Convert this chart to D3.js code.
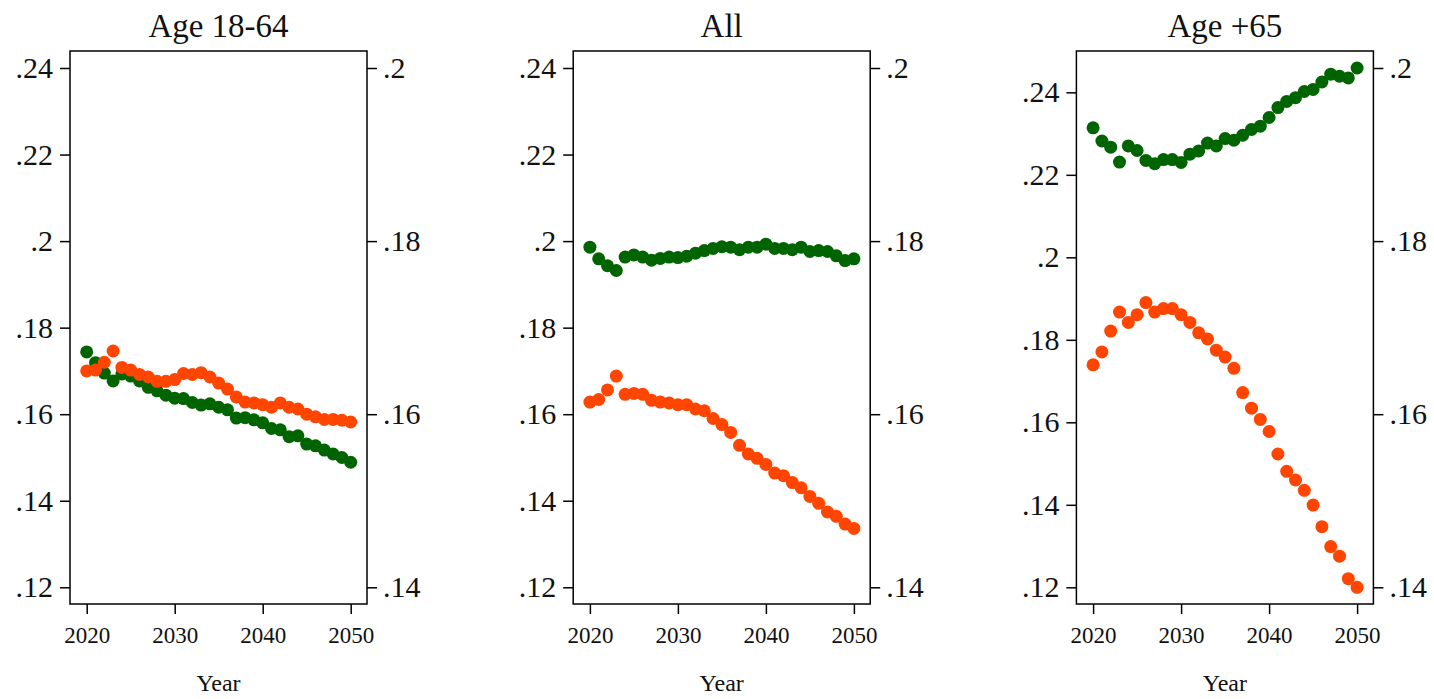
<!DOCTYPE html>
<html>
<head>
<meta charset="utf-8">
<script src="https://cdn.jsdelivr.net/npm/d3@7"></script>
<style>
  html, body { margin: 0; padding: 0; background: #fff; }
  svg { display: block; }
  text { font-family: "Liberation Serif", "Times New Roman", serif; fill: #111; }
</style>
</head>
<body>
<svg id="chart" width="1434" height="699"></svg>
<script>
// ---- data ----
const years = d3.range(2020, 2051);
const panelTitles = ["Age 18-64", "All", "Age +65"];
const xTicks = [2020, 2030, 2040, 2050];
const leftTicks = [0.12, 0.14, 0.16, 0.18, 0.20, 0.22, 0.24];
const rightTicks = [0.14, 0.16, 0.18, 0.20];

// green series (left axis)
const green1864 = [.1744,.1719,.1695,.1677,.1693,.1688,.1677,.1662,.1654,.1644,.1637,.1636,.1627,.1621,.1624,.1616,.1610,.1591,.1592,.1587,.1580,.1567,.1564,.1548,.1550,.1531,.1527,.1517,.1508,.1500,.1489];
const greenAll  = [.1986,.1959,.1943,.1932,.1963,.1968,.1963,.1956,.1960,.1963,.1962,.1965,.1972,.1978,.1983,.1987,.1986,.1980,.1986,.1986,.1993,.1983,.1983,.1980,.1986,.1976,.1978,.1976,.1966,.1955,.1959];
const green65   = [.2314,.2282,.2267,.2231,.2270,.2259,.2235,.2227,.2237,.2237,.2230,.2250,.2258,.2277,.2270,.2288,.2284,.2296,.2310,.2318,.2339,.2363,.2378,.2387,.2402,.2407,.2425,.2444,.2439,.2435,.2459];

// orange series (right axis)
const orange1864 = [.1650,.1651,.1660,.1673,.1654,.1651,.1646,.1643,.1638,.1638,.1640,.1647,.1646,.1648,.1643,.1636,.1629,.1620,.1614,.1613,.1611,.1608,.1613,.1608,.1606,.1600,.1597,.1594,.1594,.1593,.1591];
const orangeAll  = [.1614,.1617,.1628,.1644,.1623,.1624,.1623,.1616,.1614,.1613,.1611,.1611,.1606,.1604,.1595,.1588,.1579,.1564,.1554,.1549,.1542,.1532,.1529,.1521,.1515,.1505,.1497,.1487,.1482,.1473,.1468];
const orange65   = [.1657,.1672,.1696,.1718,.1706,.1715,.1729,.1718,.1722,.1722,.1715,.1706,.1694,.1687,.1674,.1666,.1653,.1625,.1607,.1594,.1580,.1554,.1534,.1524,.1512,.1495,.1470,.1447,.1436,.1410,.1400];

const greenSeries = [green1864, greenAll, green65];
const orangeSeries = [orange1864, orangeAll, orange65];

// ---- layout ----
const svg = d3.select("#chart");
const FONT = '"Liberation Serif", "Times New Roman", serif';
const frameW = 297, frameTop = 51, frameBottom = 604;
const panelLeft0 = 70, panelStep = 503.2;
const yTop = 68, yBottom = 587.3;
const GREEN = "#006400", ORANGE = "#ff4500";
const fmt = d => d3.format(".2~f")(d).replace(/^0/, "");

function styleAxis(ax, size) {
  ax.attr("font-family", FONT).attr("font-size", size);
  ax.select(".domain").remove();
  ax.selectAll("line").attr("stroke", "#000").attr("stroke-width", 1.5);
  ax.selectAll("text").style("font-family", FONT).style("font-size", size + "px").attr("fill", "#111");
}

panelTitles.forEach((title, i) => {
  const fx = panelLeft0 + i * panelStep;
  const g = svg.append("g");

  const x = d3.scaleLinear().domain([2020, 2050]).range([fx + 16.7, fx + 280.7]);
  const leftMax = Math.max(0.24, d3.max(greenSeries[i]));
  const yL = d3.scaleLinear().domain([0.12, leftMax]).range([yBottom, yTop]);
  const yR = d3.scaleLinear().domain([0.14, 0.20]).range([yBottom, yTop]);

  // frame
  g.append("rect")
    .attr("x", fx).attr("y", frameTop)
    .attr("width", frameW).attr("height", frameBottom - frameTop)
    .attr("fill", "none").attr("stroke", "#000").attr("stroke-width", 1.5);

  // left axis
  const axL = g.append("g").attr("transform", `translate(${fx},0)`)
    .call(d3.axisLeft(yL).tickValues(leftTicks).tickFormat(fmt).tickSize(10).tickPadding(7));
  styleAxis(axL, 30);

  // right axis
  const axR = g.append("g").attr("transform", `translate(${fx + frameW},0)`)
    .call(d3.axisRight(yR).tickValues(rightTicks).tickFormat(fmt).tickSize(10).tickPadding(6));
  styleAxis(axR, 30);

  // bottom axis
  const axB = g.append("g").attr("transform", `translate(0,${frameBottom})`)
    .call(d3.axisBottom(x).tickValues(xTicks).tickFormat(d3.format("d")).tickSize(10).tickPadding(13));
  styleAxis(axB, 23);

  // title
  g.append("text")
    .attr("x", fx + frameW / 2).attr("y", 37)
    .attr("text-anchor", "middle").style("font-size", "33px")
    .text(title);

  // x axis label
  g.append("text")
    .attr("x", fx + frameW / 2).attr("y", 691)
    .attr("text-anchor", "middle").style("font-size", "24px")
    .text("Year");

  // points
  g.append("g").selectAll("circle")
    .data(years.map((yr, k) => ({ yr, v: greenSeries[i][k] })))
    .join("circle")
    .attr("cx", d => x(d.yr)).attr("cy", d => yL(d.v)).attr("r", 6.5)
    .attr("fill", GREEN);

  g.append("g").selectAll("circle")
    .data(years.map((yr, k) => ({ yr, v: orangeSeries[i][k] })))
    .join("circle")
    .attr("cx", d => x(d.yr)).attr("cy", d => yR(d.v)).attr("r", 6.5)
    .attr("fill", ORANGE);
});
</script>
</body>
</html>
